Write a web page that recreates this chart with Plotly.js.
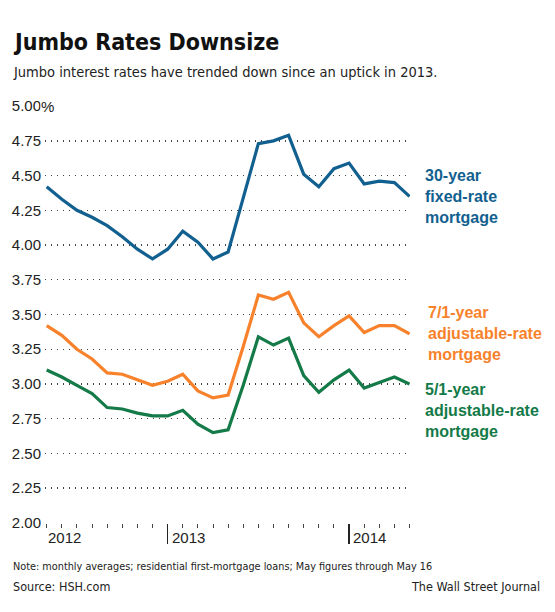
<!DOCTYPE html>
<html>
<head>
<meta charset="utf-8">
<script src="https://cdn.plot.ly/plotly-3.0.1.min.js"></script>
<style>
  html, body { margin: 0; padding: 0; background: #fff; }
  #chart { width: 555px; height: 612px; }
</style>
</head>
<body>
<div id="chart"></div>
<script>
// Months from May 2012 through May 2014 (index 0..24)
const months = ["2012-05","2012-06","2012-07","2012-08","2012-09","2012-10","2012-11","2012-12",
                "2013-01","2013-02","2013-03","2013-04","2013-05","2013-06","2013-07","2013-08",
                "2013-09","2013-10","2013-11","2013-12","2014-01","2014-02","2014-03","2014-04","2014-05"];
const fixed30 = [4.42,4.33,4.25,4.20,4.14,4.06,3.97,3.90,3.97,4.10,4.02,3.90,3.95,
                 4.35,4.73,4.75,4.79,4.51,4.42,4.55,4.59,4.44,4.46,4.45,4.35];
const arm71   = [3.42,3.35,3.25,3.18,3.08,3.07,3.03,2.99,3.02,3.07,2.95,2.90,2.92,
                 3.27,3.64,3.61,3.66,3.44,3.34,3.42,3.49,3.37,3.42,3.42,3.36];
const arm51   = [3.10,3.05,2.99,2.93,2.83,2.82,2.79,2.77,2.77,2.81,2.71,2.65,2.67,
                 2.99,3.34,3.28,3.33,3.06,2.94,3.03,3.10,2.97,3.01,3.05,3.00];
const yTickVals = [2.00,2.25,2.50,2.75,3.00,3.25,3.50,3.75,4.00,4.25,4.50,4.75,5.00];
const yTickText = ["2.00","2.25","2.50","2.75","3.00","3.25","3.50","3.75","4.00","4.25","4.50","4.75","5.00"];
const yearLabels = ["2012","2013","2014"];
const yearTickIdx = [0, 8, 20];
const seriesNames = ["30-year<br>fixed-rate<br>mortgage","7/1-year<br>adjustable-rate<br>mortgage","5/1-year<br>adjustable-rate<br>mortgage"];

const BLUE = "#12608f", ORANGE = "#f7822b", GREEN = "#137a48";
const idx = months.map((m, i) => i);
const NARROW = "DejaVu Sans Condensed, Liberation Sans Narrow, Arial Narrow, sans-serif";
const SANS = "Liberation Sans, Arial, sans-serif";

function line(y, color, name) {
  return { x: idx, y: y, type: "scatter", mode: "lines", name: name,
           line: { color: color, width: 3.2, shape: "linear" }, hoverinfo: "skip" };
}
const data = [line(fixed30, BLUE, "30-year"), line(arm71, ORANGE, "7/1-year"), line(arm51, GREEN, "5/1-year")];

const L = 45, W = 365, T = 106, H = 417;
const px = v => (v - L) / W;
const py = v => (T + H - v) / H;

const annotations = [
  { xref: "paper", yref: "paper", x: px(11), y: py(42), xanchor: "left", yanchor: "middle", showarrow: false,
    text: "<b>Jumbo Rates Downsize</b>", font: { family: NARROW, size: 23, color: "#111" } },
  { xref: "paper", yref: "paper", x: px(11), y: py(72), xanchor: "left", yanchor: "middle", showarrow: false,
    text: "Jumbo interest rates have trended down since an uptick in 2013.", font: { family: NARROW, size: 14.5, color: "#222" } },
  { xref: "paper", yref: "y", x: 0, y: 5.0, xanchor: "left", yanchor: "middle", xshift: -5, showarrow: false,
    text: "%", bgcolor: "#fff", borderpad: 0, font: { family: SANS, size: 15, color: "#222" } },
  { xref: "paper", yref: "paper", x: px(11), y: py(566), xanchor: "left", yanchor: "middle", showarrow: false,
    text: "Note: monthly averages; residential first-mortgage loans; May figures through May 16", font: { family: NARROW, size: 10.8, color: "#222" } },
  { xref: "paper", yref: "paper", x: px(11), y: py(586), xanchor: "left", yanchor: "middle", showarrow: false,
    text: "Source: HSH.com", font: { family: NARROW, size: 12.5, color: "#222" } },
  { xref: "paper", yref: "paper", x: px(542), y: py(586), xanchor: "right", yanchor: "middle", showarrow: false,
    text: "The Wall Street Journal", font: { family: NARROW, size: 12.5, color: "#222" } }
];
yearLabels.forEach((t, i) => annotations.push({
  xref: "x", yref: "paper", x: yearTickIdx[i], y: 0, xanchor: "left", yanchor: "top", xshift: i === 0 ? -1 : 2, yshift: -4,
  showarrow: false, text: t, font: { family: SANS, size: 15, color: "#222" }
}));
const labelColors = [BLUE, ORANGE, GREEN];
const labelY = [4.35, 3.36, 2.81];
const labelShift = [13, 16, 13];
seriesNames.forEach((t, i) => annotations.push({
  xref: "x", yref: "y", x: idx[idx.length - 1], y: labelY[i], xanchor: "left", yanchor: "middle", xshift: labelShift[i],
  align: "left", showarrow: false, text: "<b>" + t + "</b>", font: { family: SANS, size: 16, color: labelColors[i] }
}));

const layout = {
  width: 555, height: 612,
  margin: { l: L, r: 555 - L - W, t: T, b: 612 - T - H, pad: 0 },
  paper_bgcolor: "#fff", plot_bgcolor: "#fff",
  showlegend: false,
  xaxis: {
    range: [-0.112, 24.03], showgrid: false, zeroline: false, showline: false,
    tickmode: "array", tickvals: [8, 20], ticks: "outside", ticklen: 20, tickwidth: 1.5, tickcolor: "#222",
    showticklabels: false,
    minor: { tickmode: "linear", tick0: 0, dtick: 1, ticks: "outside", ticklen: 4, tickwidth: 1, tickcolor: "#444", showgrid: false }
  },
  yaxis: {
    range: [1.999, 5.001], tickmode: "array", tickvals: yTickVals, ticktext: yTickText,
    showgrid: true, gridcolor: "#444", gridwidth: 1.4, griddash: "1.4px,4.6px",
    zeroline: false, showline: false, ticks: "", ticklabelstandoff: 3,
    tickfont: { family: SANS, size: 15, color: "#222" }
  },
  annotations: annotations
};

Plotly.newPlot("chart", data, layout, { displayModeBar: false, staticPlot: true });
</script>
</body>
</html>
